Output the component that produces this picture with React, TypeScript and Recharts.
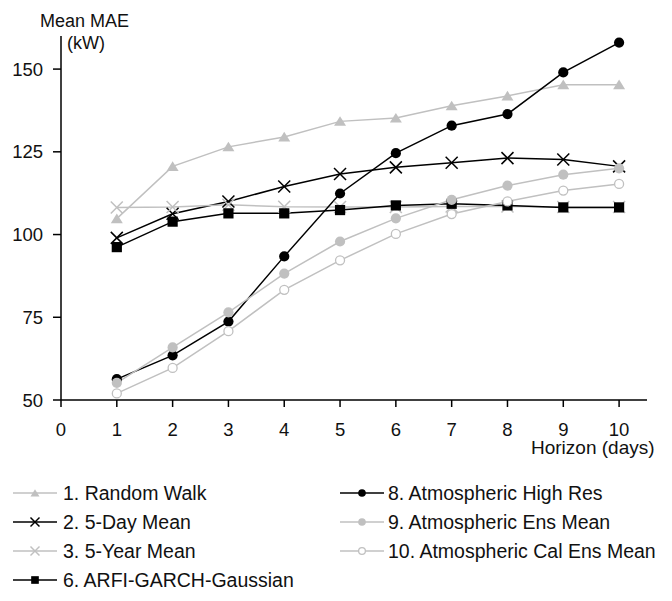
import { LineChart, Line, XAxis, YAxis } from 'recharts';

const horizons = [1, 2, 3, 4, 5, 6, 7, 8, 9, 10];
const randomWalk = [104.8, 120.6, 126.5, 129.5, 134.2, 135.2, 138.9, 141.9, 145.3, 145.3];
const fiveDayMean = [99.0, 106.3, 110.0, 114.5, 118.3, 120.3, 121.7, 123.1, 122.7, 120.6];
const fiveYearMean = [108.2, 108.3, 109.0, 108.4, 108.3, 108.3, 108.5, 108.5, 108.3, 108.3];
const arfiGarch = [96.2, 103.9, 106.4, 106.4, 107.4, 108.8, 109.3, 108.8, 108.2, 108.2];
const atmosHighRes = [56.3, 63.5, 73.7, 93.4, 112.4, 124.6, 132.9, 136.4, 149.0, 158.0];
const atmosEnsMean = [55.2, 65.9, 76.5, 88.2, 97.9, 104.9, 110.5, 114.8, 118.1, 120.0];
const atmosCalEnsMean = [52.0, 59.7, 70.8, 83.3, 92.2, 100.2, 106.2, 110.0, 113.3, 115.3];

const yTicks = [50, 75, 100, 125, 150];
const xTicks = [0, 1, 2, 3, 4, 5, 6, 7, 8, 9, 10];

const GREY = '#c0c0c0';
const BLACK = '#000';
const INK = '#111';
const FONT = '"Liberation Sans", Arial, sans-serif';

type Shape = 'triangle' | 'cross' | 'square' | 'circle' | 'ring';

const series: { key: string; name: string; values: number[]; color: string; shape: Shape; col: number; row: number }[] = [
  { key: 'rw', name: '1. Random Walk', values: randomWalk, color: GREY, shape: 'triangle', col: 0, row: 0 },
  { key: 'fdm', name: '2. 5-Day Mean', values: fiveDayMean, color: BLACK, shape: 'cross', col: 0, row: 1 },
  { key: 'fym', name: '3. 5-Year Mean', values: fiveYearMean, color: GREY, shape: 'cross', col: 0, row: 2 },
  { key: 'arfi', name: '6. ARFI-GARCH-Gaussian', values: arfiGarch, color: BLACK, shape: 'square', col: 0, row: 3 },
  { key: 'hr', name: '8. Atmospheric High Res', values: atmosHighRes, color: BLACK, shape: 'circle', col: 1, row: 0 },
  { key: 'ens', name: '9. Atmospheric Ens Mean', values: atmosEnsMean, color: GREY, shape: 'circle', col: 1, row: 1 },
  { key: 'cal', name: '10. Atmospheric Cal Ens Mean', values: atmosCalEnsMean, color: GREY, shape: 'ring', col: 1, row: 2 },
];

const data = horizons.map((h, i) => {
  const row: Record<string, number> = { h };
  series.forEach((s) => (row[s.key] = s.values[i]));
  return row;
});

function marker(shape: Shape, cx: number, cy: number, color: string, s: number, key?: string) {
  switch (shape) {
    case 'triangle':
      return (
        <polygon key={key} points={`${cx},${cy - s * 0.85} ${cx + s},${cy + s * 0.75} ${cx - s},${cy + s * 0.75}`} fill={color} />
      );
    case 'cross':
      return (
        <g key={key} stroke={color} strokeWidth={1.5}>
          <line x1={cx - s} y1={cy - s} x2={cx + s} y2={cy + s} />
          <line x1={cx - s} y1={cy + s} x2={cx + s} y2={cy - s} />
        </g>
      );
    case 'square':
      return <rect key={key} x={cx - s * 0.85} y={cy - s * 0.85} width={s * 1.7} height={s * 1.7} fill={color} />;
    case 'circle':
      return <circle key={key} cx={cx} cy={cy} r={s * 0.85} fill={color} />;
    case 'ring':
      return <circle key={key} cx={cx} cy={cy} r={s * 0.75} fill="#fff" stroke={color} strokeWidth={1.3} />;
  }
}

const legendCols = [
  { lineX: 13, text: 63 },
  { lineX: 340, text: 388 },
];
const legendRows = [493, 522, 551, 580];

export default function App() {
  return (
    <div style={{ position: 'relative', width: 672, height: 601, margin: -8, fontFamily: FONT }}>
      <LineChart width={672} height={440} data={data} margin={{ top: 36, right: 25, bottom: 0, left: 0 }}>
        <XAxis
          dataKey="h"
          type="number"
          domain={[0, 10.5]}
          ticks={xTicks}
          height={40}
          tickSize={7}
          tickMargin={16}
          stroke={BLACK}
          strokeWidth={1.5}
          tick={{ fill: INK, fontSize: 18.5, fontFamily: FONT }}
        />
        <YAxis
          type="number"
          domain={[50, 160]}
          ticks={yTicks}
          width={61}
          tickSize={8}
          tickMargin={10}
          stroke={BLACK}
          strokeWidth={1.5}
          tick={{ fill: INK, fontSize: 18.5, fontFamily: FONT }}
        />
        {series.map((s) => (
          <Line
            key={s.key}
            dataKey={s.key}
            name={s.name}
            type="linear"
            stroke={s.color}
            strokeWidth={1.5}
            isAnimationActive={false}
            dot={(p: any) => marker(s.shape, p.cx, p.cy, s.color, 6, `${s.key}-${p.index}`)}
            activeDot={false}
          />
        ))}
      </LineChart>
      <svg width={672} height={601} style={{ position: 'absolute', left: 0, top: 0, pointerEvents: 'none' }}>
        <g fontFamily={FONT} fill={INK}>
          <text x={40} y={27} fontSize={18}>Mean MAE</text>
          <text x={67} y={49} fontSize={18}>(kW)</text>
          <text x={531} y={454} fontSize={19}>Horizon (days)</text>
          {series.map((s) => {
            const c = legendCols[s.col];
            const y = legendRows[s.row];
            return (
              <g key={s.key}>
                <line x1={c.lineX} y1={y} x2={c.lineX + 44} y2={y} stroke={s.color} strokeWidth={1.5} />
                {marker(s.shape, c.lineX + 22, y, s.color, 4.5)}
                <text x={c.text} y={y + 6.5} fontSize={19.5}>{s.name}</text>
              </g>
            );
          })}
        </g>
      </svg>
    </div>
  );
}
